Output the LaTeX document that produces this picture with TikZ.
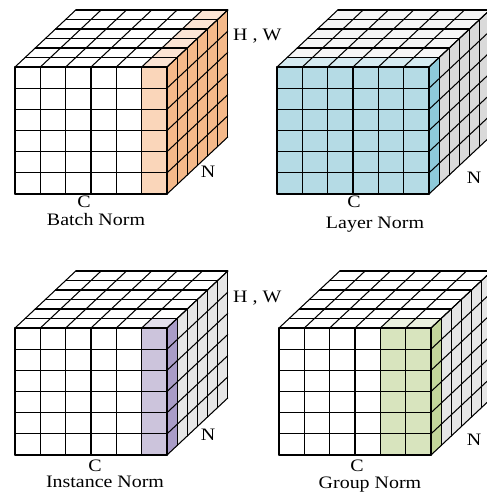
\documentclass[tikz,border=0pt]{standalone}
\usepackage{fontspec}
\setmainfont{Liberation Serif}[FakeStretch=1.14]
\definecolor{bnfront}{HTML}{FAD6BA}
\definecolor{bntop}{HTML}{FCE4D4}
\definecolor{bnside}{HTML}{F5B98A}
\definecolor{lnfront}{HTML}{B5DBE5}
\definecolor{lntop}{HTML}{D6EBF1}
\definecolor{lnside}{HTML}{8ECADA}
\definecolor{lngray}{HTML}{DADADA}
\definecolor{lntopgray}{HTML}{F6F6F6}
\definecolor{infront}{HTML}{CCC4DC}
\definecolor{intop}{HTML}{E3DFEC}
\definecolor{inside}{HTML}{A99CC7}
\definecolor{sidegray}{HTML}{E6E6E6}
\definecolor{gnfront}{HTML}{D8E4BE}
\definecolor{gntop}{HTML}{EBF1DF}
\definecolor{gnside}{HTML}{C3D69B}
\tikzset{
  gridline/.style={line width=1.05pt, black, line join=round, line cap=round},
  lbl/.style={font=\fontsize{17.5}{19}\selectfont, inner sep=0pt, anchor=base},
  cubeaxes/.style={x={(25.333pt,0pt)}, y={(0pt,-21.167pt)}, z={(10.13pt,9.5pt)}},
}
\newcommand\drawcubegrid{%
  \foreach \i in {0,...,6} {\draw[gridline] (\i,0,0) -- (\i,6,0); \draw[gridline] (\i,0,0) -- (\i,0,6);}
  \foreach \j in {0,...,6} {\draw[gridline] (0,\j,0) -- (6,\j,0); \draw[gridline] (6,\j,0) -- (6,\j,6);}
  \foreach \k in {0,...,6} {\draw[gridline] (0,0,\k) -- (6,0,\k); \draw[gridline] (6,0,\k) -- (6,6,\k);}
}
\begin{document}
\begin{tikzpicture}
\useasboundingbox[fill=white] (0pt,0pt) rectangle (487pt,-493pt);

% Batch Norm
\begin{scope}[shift={(15pt,-67pt)}, cubeaxes]
  \fill[white] (0,0,0) -- (6,0,0) -- (6,6,0) -- (0,6,0) -- cycle;
  \fill[bnfront] (5,0,0) -- (6,0,0) -- (6,6,0) -- (5,6,0) -- cycle;
  \fill[white] (0,0,0) -- (6,0,0) -- (6,0,6) -- (0,0,6) -- cycle;
  \fill[bntop] (5,0,0) -- (6,0,0) -- (6,0,6) -- (5,0,6) -- cycle;
  \fill[bnside] (6,0,0) -- (6,0,6) -- (6,6,6) -- (6,6,0) -- cycle;
  \drawcubegrid
\end{scope}

% Layer Norm
\begin{scope}[shift={(277pt,-67pt)}, cubeaxes]
  \fill[lnfront] (0,0,0) -- (6,0,0) -- (6,6,0) -- (0,6,0) -- cycle;
  \fill[lntopgray] (0,0,0) -- (6,0,0) -- (6,0,6) -- (0,0,6) -- cycle;
  \fill[lntop] (0,0,0) -- (6,0,0) -- (6,0,1) -- (0,0,1) -- cycle;
  \fill[lngray] (6,0,0) -- (6,0,6) -- (6,6,6) -- (6,6,0) -- cycle;
  \fill[lnside] (6,0,0) -- (6,0,1) -- (6,6,1) -- (6,6,0) -- cycle;
  \drawcubegrid
\end{scope}

% Instance Norm
\begin{scope}[shift={(15pt,-328pt)}, cubeaxes]
  \fill[white] (0,0,0) -- (6,0,0) -- (6,6,0) -- (0,6,0) -- cycle;
  \fill[infront] (5,0,0) -- (6,0,0) -- (6,6,0) -- (5,6,0) -- cycle;
  \fill[white] (0,0,0) -- (6,0,0) -- (6,0,6) -- (0,0,6) -- cycle;
  \fill[intop] (5,0,0) -- (6,0,0) -- (6,0,1) -- (5,0,1) -- cycle;
  \fill[sidegray] (6,0,0) -- (6,0,6) -- (6,6,6) -- (6,6,0) -- cycle;
  \fill[inside] (6,0,0) -- (6,0,1) -- (6,6,1) -- (6,6,0) -- cycle;
  \drawcubegrid
\end{scope}

% Group Norm
\begin{scope}[shift={(279pt,-328pt)}, cubeaxes]
  \fill[white] (0,0,0) -- (6,0,0) -- (6,6,0) -- (0,6,0) -- cycle;
  \fill[gnfront] (4,0,0) -- (6,0,0) -- (6,6,0) -- (4,6,0) -- cycle;
  \fill[white] (0,0,0) -- (6,0,0) -- (6,0,6) -- (0,0,6) -- cycle;
  \fill[gntop] (4,0,0) -- (6,0,0) -- (6,0,1) -- (4,0,1) -- cycle;
  \fill[sidegray] (6,0,0) -- (6,0,6) -- (6,6,6) -- (6,6,0) -- cycle;
  \fill[gnside] (6,0,0) -- (6,0,1) -- (6,6,1) -- (6,6,0) -- cycle;
  \drawcubegrid
\end{scope}

% labels
\node[lbl, anchor=base west] (hw1) at (233pt,-40pt) {H , W};
\node[lbl] (n1) at (208pt,-177pt) {N};
\node[lbl] (c1) at (84pt,-207pt) {C};
\node[lbl] (t1) at (96pt,-225pt) {Batch Norm};

\node[lbl] (n2) at (474pt,-183pt) {N};
\node[lbl] (c2) at (354pt,-207pt) {C};
\node[lbl] (t2) at (375pt,-228pt) {Layer Norm};

\node[lbl, anchor=base west] (hw2) at (233pt,-302pt) {H , W};
\node[lbl] (n3) at (208pt,-440pt) {N};
\node[lbl] (c3) at (95pt,-471pt) {C};
\node[lbl] (t3) at (105pt,-487pt) {Instance Norm};

\node[lbl] (n4) at (474pt,-445pt) {N};
\node[lbl] (c4) at (357pt,-471pt) {C};
\node[lbl] (t4) at (370pt,-488pt) {Group Norm};
\end{tikzpicture}
\end{document}
